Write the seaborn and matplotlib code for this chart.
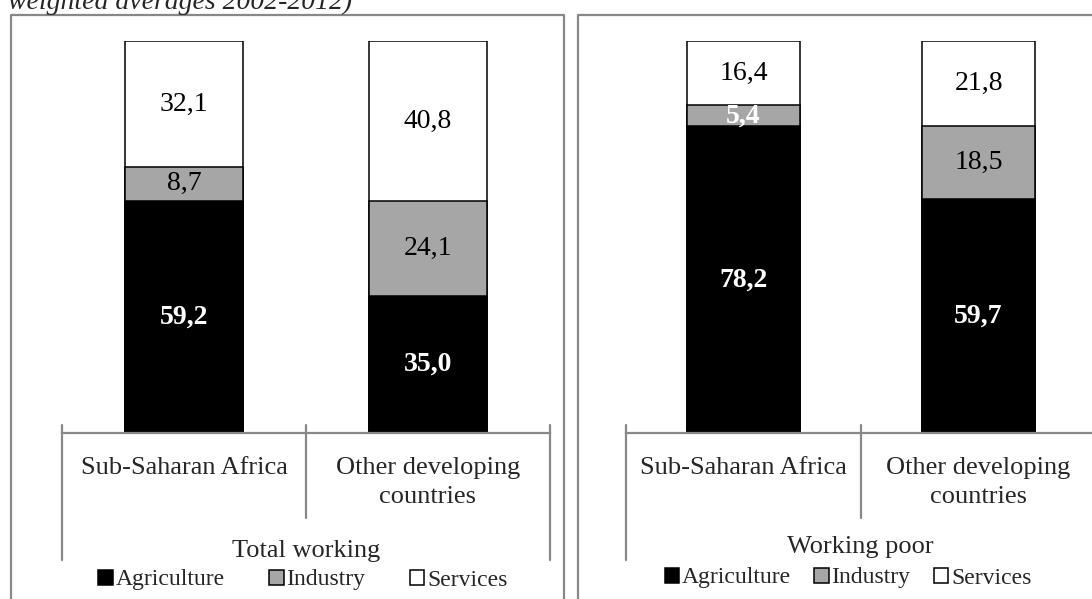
import matplotlib
matplotlib.use("Agg")
import matplotlib.pyplot as plt
import pandas as pd
import seaborn as sns
from matplotlib.lines import Line2D

W, H = 1092, 599
GRAY = "#888888"
SERIF = ["Liberation Serif", "DejaVu Serif"]

title_text = "weighted averages 2002-2012)"
regions = ["Sub-Saharan Africa", "Other developing countries"]
region_labels = ["Sub-Saharan Africa", "Other developing\ncountries"]
sectors = ["Agriculture", "Industry", "Services"]
sector_colors = ["#000000", "#A6A6A6", "#FFFFFF"]

total_agriculture = [59.2, 35.0]
total_industry = [8.7, 24.1]
total_services = [32.1, 40.8]

poor_agriculture = [78.2, 59.7]
poor_industry = [5.4, 18.5]
poor_services = [16.4, 21.8]

# labels drawn bold white besides agriculture (panel, sector, region index)
white_labels = {("Working poor", "Industry", 0)}


def px(x, y):
    return x / W, 1 - y / H


def fig_line(fig, xs, ys):
    fx = [x / W for x in xs]
    fy = [1 - y / H for y in ys]
    fig.add_artist(Line2D(fx, fy, transform=fig.transFigure, color=GRAY, lw=1.6))


def draw_panel(fig, ax, agri, ind, serv, group_title, title_pos, legend_pos, colspacing):
    df = pd.DataFrame({"region": regions, "Agriculture": agri, "Industry": ind, "Services": serv})
    df["top_ind"] = df["Agriculture"] + df["Industry"]
    df["top_serv"] = df["top_ind"] + df["Services"]

    # stacked bars: draw cumulative totals, largest first
    for sector, col, color in [("Services", "top_serv", sector_colors[2]),
                               ("Industry", "top_ind", sector_colors[1]),
                               ("Agriculture", "Agriculture", sector_colors[0])]:
        sns.barplot(data=df, x="region", y=col, order=regions, color=color, saturation=1,
                    edgecolor="black", linewidth=1.1, width=0.48, label=sector, ax=ax)

    # value labels
    for i, row in df.iterrows():
        bottom = 0
        for sector in sectors:
            val = row[sector]
            white = sector == "Agriculture" or (group_title, sector, i) in white_labels
            ax.text(i, bottom + val / 2, f"{val:.1f}".replace(".", ","),
                    ha="center", va="center", fontsize=20, family=SERIF,
                    color="white" if white else "black",
                    fontweight="bold" if white else "normal")
            bottom += val

    ax.set_ylim(0, 100)
    ax.set_xlim(-0.5, 1.5)
    ax.set_ylabel("")
    ax.set_xlabel("")
    ax.set_yticks([])
    ax.set_xticks(range(len(regions)))
    ax.set_xticklabels(region_labels, fontsize=19, family=SERIF, linespacing=1.45)
    ax.set_axisbelow(False)
    ax.tick_params(axis="x", direction="in", length=5, width=1.2, color=GRAY, pad=17)
    for side in ["left", "top", "right"]:
        ax.spines[side].set_visible(False)
    ax.spines["bottom"].set_color(GRAY)
    ax.spines["bottom"].set_linewidth(1.6)
    ax.patch.set_alpha(0)

    # multi-level category dividers
    trans = ax.get_xaxis_transform()
    for x, y_end in [(-0.5, -0.324), (0.5, -0.217), (1.5, -0.324)]:
        ax.plot([x, x], [0.02, y_end], transform=trans, color=GRAY, lw=1.6, clip_on=False)

    fig.text(*px(*title_pos), group_title, ha="center", va="center", fontsize=19, family=SERIF)

    handles, labels = ax.get_legend_handles_labels()
    ax.legend(handles[::-1], labels[::-1], ncol=3, loc="center",
              bbox_to_anchor=px(*legend_pos), bbox_transform=fig.transFigure,
              frameon=False, prop={"family": SERIF, "size": 17},
              handlelength=0.6, handleheight=0.6, handletextpad=0.12,
              columnspacing=colspacing, borderpad=0)


def main():
    sns.set_theme(style="white")
    plt.rcParams["font.family"] = SERIF

    fig = plt.figure(figsize=(W / 100, H / 100), dpi=100)
    fig.patch.set_facecolor("white")

    ax_left = fig.add_axes([62 / W, (H - 433) / H, 488 / W, 392 / H])
    ax_right = fig.add_axes([626 / W, (H - 433) / H, 470 / W, 392 / H])

    draw_panel(fig, ax_left, total_agriculture, total_industry, total_services,
               "Total working", (306, 551), (303, 580), 1.9)
    draw_panel(fig, ax_right, poor_agriculture, poor_industry, poor_services,
               "Working poor", (860, 547), (848, 578), 1.0)

    # panel frames
    fig_line(fig, [11, 11, 564, 564], [620, 15, 15, 620])
    fig_line(fig, [578, 578, 1120], [620, 15, 15])

    fig.text(*px(8, 9), title_text, ha="left", va="baseline", fontsize=20,
             style="italic", family=SERIF)

    fig.savefig("out.png", dpi=100)
    plt.close(fig)


if __name__ == "__main__":
    main()
